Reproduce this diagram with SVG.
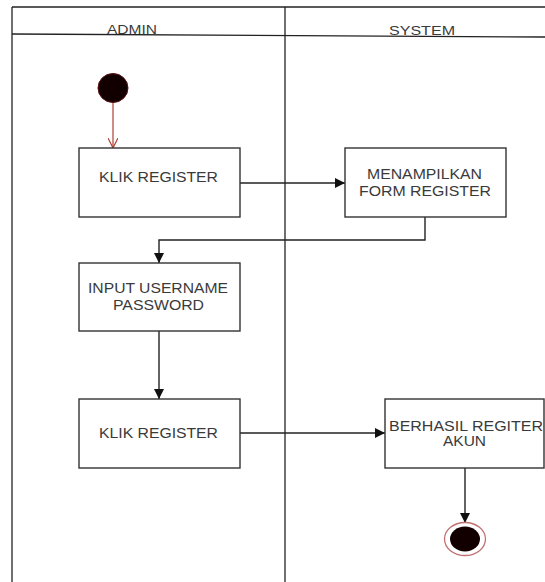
<svg xmlns="http://www.w3.org/2000/svg" width="545" height="582" viewBox="0 0 545 582">
<style>
.frame{fill:none;stroke:#222;stroke-width:1.3}
.box{fill:#fff;stroke:#333;stroke-width:1.4}
.t{font-family:"Liberation Sans",Arial,sans-serif;font-size:14px;fill:#3a3a3a;text-anchor:middle}
.h{font-family:"Liberation Sans",Arial,sans-serif;font-size:12px;fill:#3a3a3a;text-anchor:middle}
.c{fill:none;stroke:#222;stroke-width:1.4}
</style>
<defs>
<marker id="arr" viewBox="0 0 10 10" refX="10" refY="5" markerWidth="10" markerHeight="10" markerUnits="userSpaceOnUse" orient="auto">
<path d="M0,0 L10,5 L0,10 Z" fill="#111"/>
</marker>
<marker id="open" viewBox="0 0 10 10" refX="10" refY="5" markerWidth="10" markerHeight="10" markerUnits="userSpaceOnUse" orient="auto">
<path d="M0,0 L10,5 L0,10" fill="none" stroke="#b0402f" stroke-width="1.2"/>
</marker>
</defs>
<rect width="545" height="582" fill="#fff"/>
<g id="swimlanes">
<line class="frame" x1="12" y1="7" x2="545" y2="7"/>
<line class="frame" x1="12" y1="7" x2="12" y2="582"/>
<line class="frame" x1="285" y1="7" x2="285" y2="582"/>
<line class="frame" x1="12" y1="34" x2="545" y2="37"/>
<text class="h" x="132" y="34" textLength="50" lengthAdjust="spacingAndGlyphs">ADMIN</text>
<text class="h" x="422" y="35" textLength="66" lengthAdjust="spacingAndGlyphs">SYSTEM</text>
</g>
<g id="connectors">
<line x1="113" y1="102" x2="113" y2="148" stroke="#b0402f" stroke-width="1.2" marker-end="url(#open)"/>
<line class="c" x1="240" y1="183" x2="345" y2="183" marker-end="url(#arr)"/>
<polyline class="c" points="425,217 425,240 159,240 159,263" marker-end="url(#arr)"/>
<line class="c" x1="159" y1="331" x2="159" y2="399" marker-end="url(#arr)"/>
<line class="c" x1="240" y1="433" x2="385" y2="433" marker-end="url(#arr)"/>
<line class="c" x1="465" y1="468" x2="465" y2="523" marker-end="url(#arr)"/>
</g>
<g id="start">
<ellipse cx="113" cy="88" rx="15" ry="14.5" fill="#120000" stroke="#5a1010" stroke-width="1"/>
</g>
<g id="klik-register-1">
<rect class="box" x="79" y="148" width="161" height="69"/>
<text class="t" x="158.5" y="182" textLength="119" lengthAdjust="spacingAndGlyphs">KLIK REGISTER</text>
</g>
<g id="menampilkan-form">
<rect class="box" x="345" y="148" width="161" height="69"/>
<text class="t" x="424.5" y="179" textLength="115" lengthAdjust="spacingAndGlyphs">MENAMPILKAN</text>
<text class="t" x="425" y="196" textLength="132" lengthAdjust="spacingAndGlyphs">FORM REGISTER</text>
</g>
<g id="input-username">
<rect class="box" x="79" y="263" width="161" height="68"/>
<text class="t" x="158" y="293" textLength="140" lengthAdjust="spacingAndGlyphs">INPUT USERNAME</text>
<text class="t" x="158.5" y="310" textLength="91" lengthAdjust="spacingAndGlyphs">PASSWORD</text>
</g>
<g id="klik-register-2">
<rect class="box" x="79" y="399" width="161" height="69"/>
<text class="t" x="158.5" y="438" textLength="119" lengthAdjust="spacingAndGlyphs">KLIK REGISTER</text>
</g>
<g id="berhasil">
<rect class="box" x="385" y="399" width="159" height="69"/>
<text class="t" x="466" y="431" textLength="154" lengthAdjust="spacingAndGlyphs">BERHASIL REGITER</text>
<text class="t" x="464.5" y="446" textLength="43" lengthAdjust="spacingAndGlyphs">AKUN</text>
</g>
<g id="end">
<ellipse cx="465" cy="539" rx="20.5" ry="16.5" fill="#fff" stroke="#c07070" stroke-width="1.3"/>
<ellipse cx="465" cy="539" rx="15" ry="12.5" fill="#120000"/>
</g>
</svg>
